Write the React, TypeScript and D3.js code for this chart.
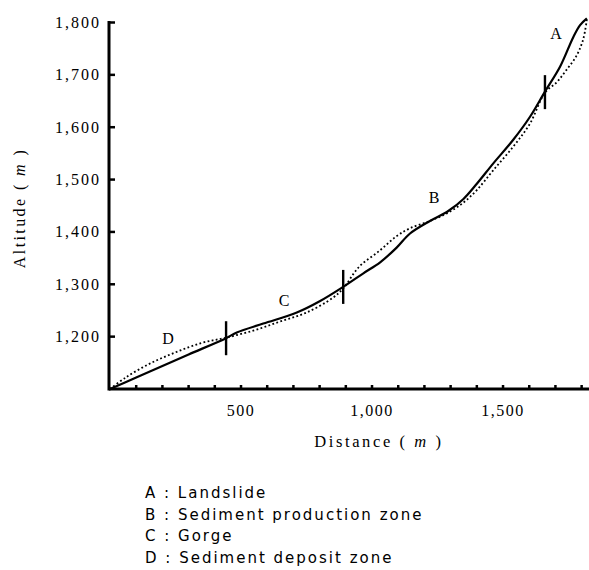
import { useEffect, useRef } from 'react';
import * as d3 from 'd3';

const WIDTH = 589;
const HEIGHT = 570;

// distance (m), altitude (m)
const currentProfile: [number, number][] = [
  [0, 1100], [100, 1122], [200, 1144], [300, 1166], [443, 1197], [484, 1208],
  [585, 1225], [713, 1246], [802, 1268], [890, 1295], [967, 1321], [1031, 1342],
  [1094, 1370], [1145, 1397], [1221, 1421], [1291, 1440], [1349, 1463], [1400, 1492],
  [1463, 1531], [1539, 1576], [1603, 1620], [1660, 1668], [1718, 1716], [1768, 1772],
  [1794, 1795], [1820, 1808],
];

const formerProfile: [number, number][] = [
  [0, 1100], [60, 1122], [150, 1148], [250, 1170], [350, 1188], [443, 1198],
  [550, 1212], [650, 1229], [750, 1246], [850, 1274], [890, 1292], [950, 1333],
  [1031, 1365], [1094, 1392], [1145, 1407], [1221, 1421], [1291, 1437], [1349, 1456],
  [1400, 1480], [1463, 1518], [1539, 1563], [1603, 1607], [1660, 1666], [1705, 1686],
  [1743, 1710], [1781, 1737], [1806, 1768], [1820, 1806],
];

// zone boundaries on the profile
const boundaryDist = [443, 890, 1660];
const boundaryAlt = [1197, 1295, 1667];

// zone letters placed on the chart
const zoneLetters = ['A', 'B', 'C', 'D'];
const zoneLetterDist = [1702, 1237, 664, 221];
const zoneLetterAlt = [1780, 1467, 1270, 1197];

const xTicks = [500, 1000, 1500];
const xMinorTicks = d3.range(100, 1900, 100);
const yTicks = [1200, 1300, 1400, 1500, 1600, 1700, 1800];

const legendItems = [
  'A : Landslide',
  'B : Sediment production zone',
  'C : Gorge',
  'D : Sediment deposit zone',
];

const SERIF = '"Liberation Serif", "DejaVu Serif", serif';
const SANS = '"DejaVu Sans", "Liberation Sans", sans-serif';

export default function App() {
  const svgRef = useRef<SVGSVGElement>(null);

  useEffect(() => {
    const svg = d3.select(svgRef.current);
    svg.selectAll('*').remove();

    const x = d3.scaleLinear().domain([0, 1830]).range([110, 589.5]);
    const y = d3.scaleLinear().domain([1100, 1800]).range([389, 22.5]);

    const g = svg.append('g');

    // axes
    g.append('line')
      .attr('x1', x(0) - 1).attr('x2', WIDTH)
      .attr('y1', y(1100)).attr('y2', y(1100))
      .attr('stroke', '#000').attr('stroke-width', 3);
    g.append('line')
      .attr('x1', x(0) - 1).attr('x2', x(0) - 1)
      .attr('y1', y(1100) + 1.5).attr('y2', y(1800) - 1.5)
      .attr('stroke', '#000').attr('stroke-width', 3);

    // minor ticks on x axis (point inward)
    g.selectAll('.xminor')
      .data(xMinorTicks)
      .join('line')
      .attr('x1', (d) => x(d)).attr('x2', (d) => x(d))
      .attr('y1', y(1100)).attr('y2', y(1100) - 4)
      .attr('stroke', '#000').attr('stroke-width', 2.5);

    g.selectAll('.xlabel')
      .data(xTicks)
      .join('text')
      .attr('x', (d) => x(d))
      .attr('y', 416)
      .attr('text-anchor', 'middle')
      .style('font-family', SERIF)
      .style('font-size', '16px')
      .style('letter-spacing', '1.5px')
      .text((d) => d3.format(',')(d));

    // y ticks
    g.selectAll('.ytick')
      .data(yTicks)
      .join('line')
      .attr('x1', x(0)).attr('x2', x(0) + 5)
      .attr('y1', (d) => y(d)).attr('y2', (d) => y(d))
      .attr('stroke', '#000').attr('stroke-width', 2.5);

    g.selectAll('.ylabel')
      .data(yTicks)
      .join('text')
      .attr('x', 101)
      .attr('y', (d) => y(d) + 5.5)
      .attr('text-anchor', 'end')
      .style('font-family', SERIF)
      .style('font-size', '16px')
      .style('letter-spacing', '2px')
      .text((d) => d3.format(',')(d));

    // axis titles
    const xt = g.append('text')
      .attr('x', 379).attr('y', 447)
      .attr('text-anchor', 'middle')
      .style('font-family', SERIF)
      .style('font-size', '16.5px')
      .style('letter-spacing', '2.6px');
    xt.append('tspan').text('Distance ( ');
    xt.append('tspan').style('font-style', 'italic').text('m');
    xt.append('tspan').text(' )');

    const yt = g.append('text')
      .attr('transform', 'translate(25,208) rotate(-90)')
      .attr('text-anchor', 'middle')
      .style('font-family', SERIF)
      .style('font-size', '16px')
      .style('letter-spacing', '2.4px');
    yt.append('tspan').text('Altitude ( ');
    yt.append('tspan').style('font-style', 'italic').text('m');
    yt.append('tspan').text(' )');

    // profiles
    const line = d3.line<[number, number]>()
      .x((d) => x(d[0]))
      .y((d) => y(d[1]))
      .curve(d3.curveCatmullRom.alpha(0.5));

    g.append('path')
      .attr('d', line(formerProfile))
      .attr('fill', 'none')
      .attr('stroke', '#000')
      .attr('stroke-width', 1.8)
      .attr('stroke-dasharray', '1.8,2.4');

    g.append('path')
      .attr('d', line(currentProfile))
      .attr('fill', 'none')
      .attr('stroke', '#000')
      .attr('stroke-width', 2.2);

    // zone boundaries
    g.selectAll('.boundary')
      .data(boundaryDist)
      .join('line')
      .attr('x1', (d) => x(d)).attr('x2', (d) => x(d))
      .attr('y1', (d, i) => y(boundaryAlt[i]) - 17)
      .attr('y2', (d, i) => y(boundaryAlt[i]) + 17)
      .attr('stroke', '#000').attr('stroke-width', 2.4);

    // zone letters
    g.selectAll('.zone')
      .data(zoneLetters)
      .join('text')
      .attr('x', (d, i) => x(zoneLetterDist[i]))
      .attr('y', (d, i) => y(zoneLetterAlt[i]) + 6)
      .attr('text-anchor', 'middle')
      .style('font-family', SERIF)
      .style('font-size', '16px')
      .text((d) => d);

    // legend
    g.selectAll('.legend')
      .data(legendItems)
      .join('text')
      .attr('x', 145)
      .attr('y', (d, i) => 498 + i * 21.5)
      .style('font-family', SANS)
      .style('font-size', '15px')
      .style('letter-spacing', '2px')
      .text((d) => d);
  }, []);

  return (
    <svg
      ref={svgRef}
      width={WIDTH}
      height={HEIGHT}
      viewBox={`0 0 ${WIDTH} ${HEIGHT}`}
      style={{ position: 'absolute', left: 0, top: 0, background: '#fff' }}
    />
  );
}
